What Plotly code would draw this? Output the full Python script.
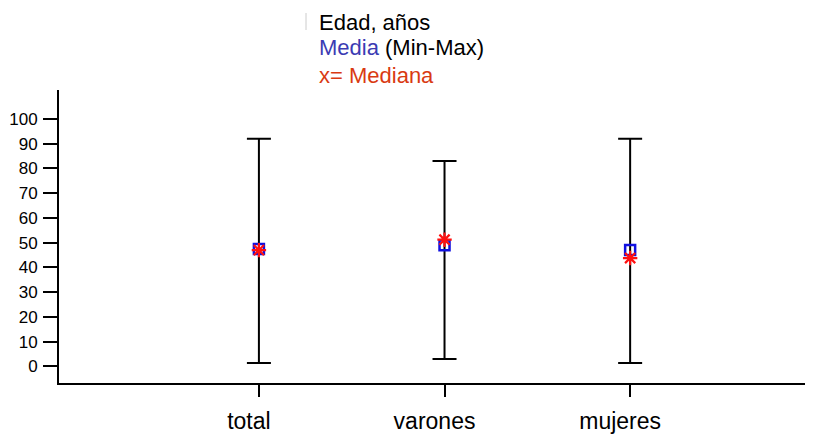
import plotly.graph_objects as go

categories = ["total", "varones", "mujeres"]
media = [47.4, 49.0, 47.0]
mediana = [47.0, 51.2, 43.8]
minimo = [1.4, 3.0, 1.4]
maximo = [92.0, 83.0, 92.0]
y_ticks = [0, 10, 20, 30, 40, 50, 60, 70, 80, 90, 100]

xpos = list(range(len(categories)))

fig = go.Figure()

# Min-Max error bars (drawn around an invisible mid-point)
mid = [(a + b) / 2 for a, b in zip(minimo, maximo)]
fig.add_trace(go.Scatter(
    x=xpos, y=mid, mode="markers",
    marker=dict(size=1, color="rgba(0,0,0,0)"),
    error_y=dict(type="data", symmetric=False,
                 array=[mx - m for mx, m in zip(maximo, mid)],
                 arrayminus=[m - mn for mn, m in zip(minimo, mid)],
                 color="black", thickness=2, width=12),
    showlegend=False, hoverinfo="skip",
))

fig.add_trace(go.Scatter(
    x=xpos, y=media, mode="markers",
    marker=dict(symbol="square-open", size=10, color="#1010E0",
                line=dict(width=2.5, color="#1010E0")),
    showlegend=False,
))

fig.add_trace(go.Scatter(
    x=xpos, y=mediana, mode="markers",
    marker=dict(symbol="asterisk-open", size=12, color="#FF1010",
                line=dict(width=2.2, color="#FF1010")),
    showlegend=False,
))

font_main = "Liberation Sans, Arial, sans-serif"

# page body has an 8px margin; figure coordinates are offset accordingly
fig.update_layout(
    width=805, height=426,
    margin=dict(l=51, r=3, t=82, b=51),
    paper_bgcolor="white", plot_bgcolor="white",
    font=dict(family=font_main, color="black"),
    xaxis=dict(
        range=[-1.077, 2.969],
        tickvals=xpos, ticktext=categories,
        ticks="outside", ticklen=12, tickwidth=2, tickcolor="black",
        ticklabelstandoff=4, ticklabelshift=-10,
        showline=True, linewidth=2, linecolor="black",
        showgrid=False, zeroline=False, automargin=False,
        tickfont=dict(size=23, color="black", family=font_main),
    ),
    yaxis=dict(
        range=[-6.7, 111.7],
        tickvals=y_ticks,
        ticks="outside", ticklen=14, tickwidth=2, tickcolor="black",
        ticklabelstandoff=2,
        showline=True, linewidth=2, linecolor="black",
        showgrid=False, zeroline=False, automargin=False,
        tickfont=dict(size=17, color="black", family=font_main),
    ),
    annotations=[
        dict(xref="paper", yref="paper", x=(317 - 59) / 751, y=1 + (90 - 22) / 293,
             xanchor="left", yanchor="middle", showarrow=False,
             text="Edad, años", font=dict(size=22, color="black", family=font_main)),
        dict(xref="paper", yref="paper", x=(317 - 59) / 751, y=1 + (90 - 47) / 293,
             xanchor="left", yanchor="middle", showarrow=False,
             text="<span style='color:#3B3BB3'>Media</span> (Min-Max)",
             font=dict(size=22, color="black", family=font_main)),
        dict(xref="paper", yref="paper", x=(317 - 59) / 751, y=1 + (90 - 76) / 293,
             xanchor="left", yanchor="middle", showarrow=False,
             text="x= Mediana", font=dict(size=22, color="#D93A12", family=font_main)),
    ],
    shapes=[
        dict(type="line", xref="paper", yref="paper",
             x0=(306 - 59) / 751, x1=(306 - 59) / 751,
             y0=1 + (90 - 13) / 293, y1=1 + (90 - 30) / 293,
             line=dict(color="#CCCCCC", width=1)),
    ],
)

fig.write_html("out.html")
